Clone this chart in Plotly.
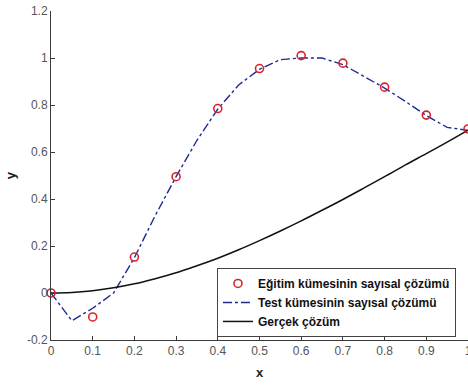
import plotly.graph_objects as go

# Training set: numerical solution at the training nodes
x_train = [0.0, 0.1, 0.2, 0.3, 0.4, 0.5, 0.6, 0.7, 0.8, 0.9, 1.0]
y_train = [0.0, -0.102, 0.153, 0.495, 0.785, 0.955, 1.01, 0.978, 0.876, 0.757, 0.698]

# Test set: numerical solution on the finer grid
x_test = [0.0, 0.05, 0.1, 0.15, 0.2, 0.25, 0.3, 0.35, 0.4, 0.45, 0.5,
          0.55, 0.6, 0.65, 0.7, 0.75, 0.8, 0.85, 0.9, 0.95, 1.0]
y_test = [0.0, -0.118, -0.065, 0.0, 0.15, 0.33, 0.495, 0.65, 0.783, 0.885, 0.952,
          0.993, 1.0, 1.0, 0.972, 0.923, 0.872, 0.815, 0.755, 0.705, 0.692]

# Exact solution
x_true = [0.0, 0.05, 0.1, 0.15, 0.2, 0.25, 0.3, 0.35, 0.4, 0.45, 0.5,
          0.55, 0.6, 0.65, 0.7, 0.75, 0.8, 0.85, 0.9, 0.95, 1.0]
y_true = [0.0, 0.0025, 0.01, 0.022, 0.039, 0.061, 0.086, 0.116, 0.148, 0.184, 0.223,
          0.264, 0.307, 0.352, 0.398, 0.446, 0.495, 0.545, 0.593, 0.642, 0.693]

x_ticks = [0, 0.1, 0.2, 0.3, 0.4, 0.5, 0.6, 0.7, 0.8, 0.9, 1]
x_ticklabels = ["0", "0.1", "0.2", "0.3", "0.4", "0.5", "0.6", "0.7", "0.8", "0.9", "1"]
y_ticks = [-0.2, 0, 0.2, 0.4, 0.6, 0.8, 1, 1.2]
y_ticklabels = ["-0.2", "0", "0.2", "0.4", "0.6", "0.8", "1", "1.2"]

FONT = "Liberation Sans, Arial, sans-serif"
AXIS = "#3a3a3a"

fig = go.Figure()
fig.add_trace(go.Scatter(
    x=x_test, y=y_test, mode="lines",
    name="<b>Test kümesinin sayısal çözümü</b>", legendrank=2,
    line=dict(color="#1f2a8f", width=1.4, dash="dashdot"),
))
fig.add_trace(go.Scatter(
    x=x_true, y=y_true, mode="lines", line_shape="spline",
    name="<b>Gerçek çözüm</b>", legendrank=3,
    line=dict(color="#111111", width=1.5),
))
fig.add_trace(go.Scatter(
    x=x_train, y=y_train, mode="markers",
    name="<b>Eğitim kümesinin sayısal çözümü</b>", legendrank=1,
    marker=dict(symbol="circle-open", size=8, color="#d8232a",
                line=dict(width=1.6, color="#d8232a")),
    cliponaxis=False,
))

fig.update_layout(
    width=468, height=385,
    margin=dict(l=51, r=0, t=11, b=45, autoexpand=False),
    paper_bgcolor="white", plot_bgcolor="white",
    font=dict(family=FONT, size=12, color="#444444"),
    showlegend=True,
    legend=dict(
        x=0.398, y=0.219, xanchor="left", yanchor="top",
        bgcolor="white", bordercolor="#444444", borderwidth=1,
        font=dict(family=FONT, size=12, color="#111111"),
        traceorder="normal", itemwidth=30, tracegroupgap=0,
    ),
    xaxis=dict(
        range=[0, 1], tickvals=x_ticks, ticktext=x_ticklabels,
        showgrid=False, zeroline=False, showline=True, linecolor=AXIS, linewidth=1,
        ticks="inside", ticklen=4, tickcolor=AXIS, mirror=False,
        ticklabeloverflow="allow",
        title=dict(text="<b>x</b>", font=dict(size=13, color="#222222"), standoff=10),
        tickfont=dict(size=12, color="#555555"),
    ),
    yaxis=dict(
        range=[-0.2, 1.2], tickvals=y_ticks, ticktext=y_ticklabels,
        showgrid=False, zeroline=False, showline=True, linecolor=AXIS, linewidth=1,
        ticks="inside", ticklen=4, tickcolor=AXIS, mirror=False,
        title=dict(text="<b>y</b>", font=dict(size=13, color="#222222"), standoff=8),
        tickfont=dict(size=12, color="#555555"),
    ),
)

fig.write_html("out.html")
